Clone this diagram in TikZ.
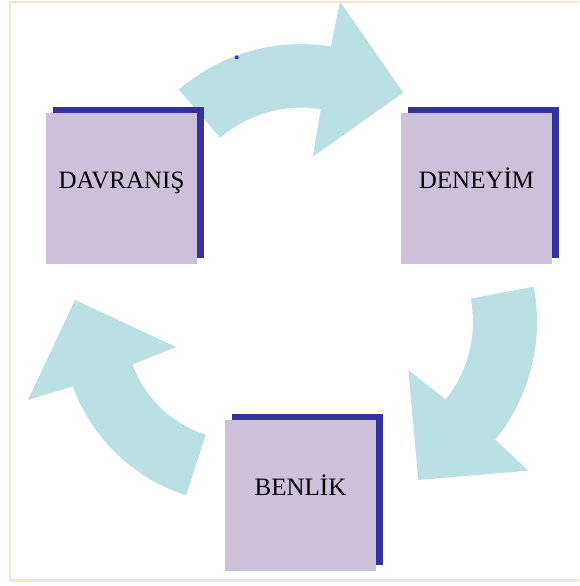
\documentclass[tikz,border=0pt]{standalone}
\usepackage{fontspec}
\setmainfont{Liberation Serif}
\usetikzlibrary{shadows}
\definecolor{arrowc}{HTML}{BBE0E3}
\definecolor{boxc}{HTML}{CCC0DA}
\definecolor{shadowc}{HTML}{333399}
\definecolor{framec}{HTML}{FDE2CF}
\definecolor{dotc}{HTML}{2233EE}
\begin{document}
\begin{tikzpicture}[x=1pt,y=-1pt,
  stagebox/.style={fill=boxc, draw=none, minimum width=151pt, minimum height=151pt,
    inner sep=0pt, text height=12pt, text depth=12pt, text=black,
    font=\fontsize{25}{30}\selectfont,
    copy shadow={shadow xshift=6.5pt, shadow yshift=6.3pt, fill=shadowc, draw=none}},
  cyclearrow/.style={fill=arrowc, draw=none}]
\useasboundingbox (0,0) rectangle (579,586);
\clip (0,0) rectangle (579,586);
\fill[white] (0,0) rectangle (579,586);
\draw[framec, line width=2.5pt] (10,2) rectangle (600,580.5);

% curved arrows
\fill[cyclearrow]
  plot[domain=-130.7:-81, samples=40] ({301.4+188*cos(\x)},{232.1+188*sin(\x)})
  -- (340,1.7) -- (403.3,92.7) -- (312.7,156.7)
  -- plot[domain=-81:-130.7, samples=40] ({301.4+124.5*cos(\x)},{232.1+124.5*sin(\x)})
  -- cycle;
\fill[cyclearrow]
  plot[domain=-10.9:39, samples=40] ({350+187*cos(\x)},{322+187*sin(\x)})
  -- (528.3,470.7) -- (418.3,480) -- (408.3,370)
  -- plot[domain=39:-10.9, samples=40] ({350+123*cos(\x)},{322+123*sin(\x)})
  -- cycle;
\fill[cyclearrow]
  plot[domain=107.7:160, samples=40] ({240.6+178.6*cos(\x)},{325.2+178.6*sin(\x)})
  -- (28,400) -- (75,300) -- (176,347)
  -- plot[domain=160:107.7, samples=40] ({240.6+115*cos(\x)},{325.2+115*sin(\x)})
  -- cycle;
\fill[dotc] (236.7,57.3) circle[radius=2pt];

% stages
\node[stagebox] (dav) at (121.5,188.5) {DAVRANIŞ};
\node[stagebox] (den) at (476.5,188.5) {DENEYİM};
\node[stagebox] (ben) at (300.5,495.5) {BENLİK};
\end{tikzpicture}
\end{document}
